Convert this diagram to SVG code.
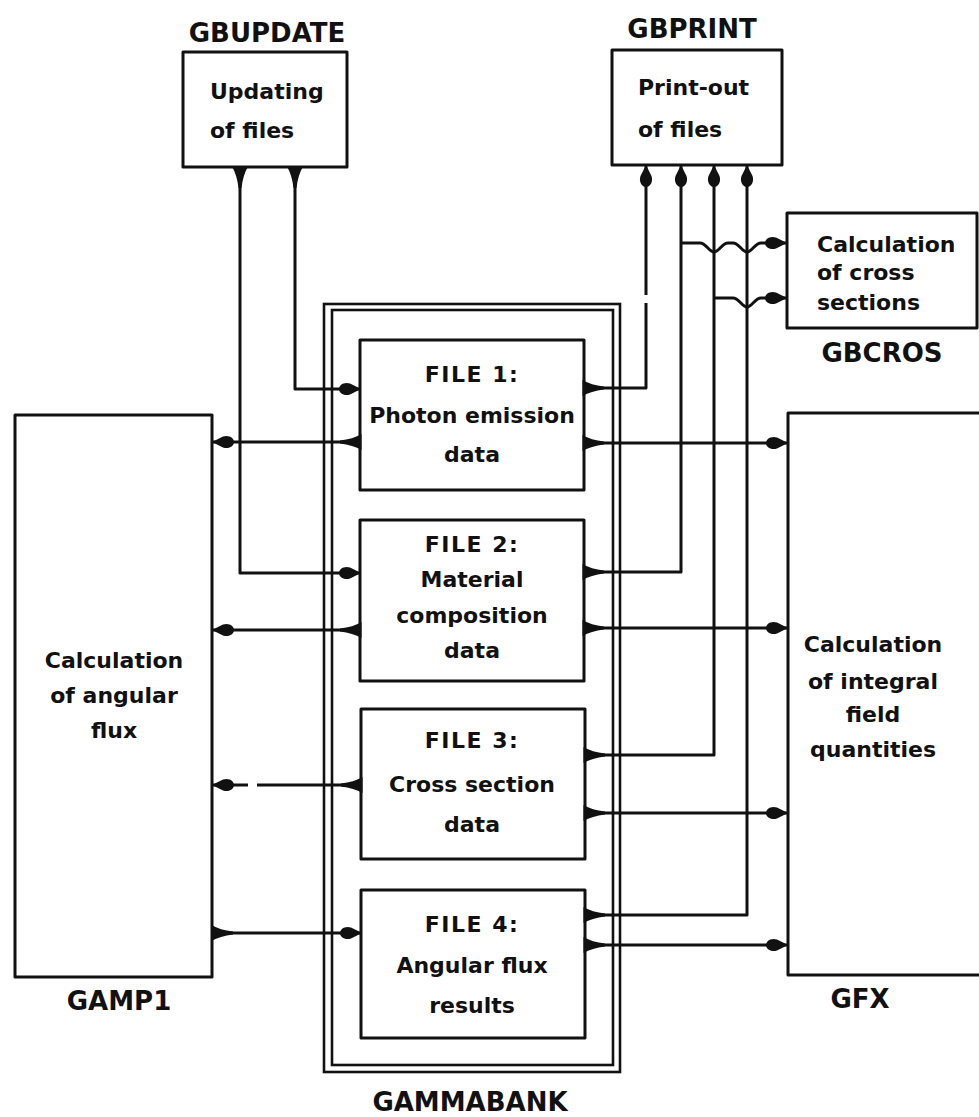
<svg xmlns="http://www.w3.org/2000/svg" width="979" height="1117" viewBox="0 0 979 1117">
<style>
.box{fill:none;stroke:#111;stroke-width:3;stroke-linejoin:round}
.frame{fill:none;stroke:#111;stroke-width:2.6}
.ln{fill:none;stroke:#111;stroke-width:3;stroke-linejoin:round}
.t{font-family:"DejaVu Sans","Liberation Sans",sans-serif;font-weight:bold;font-size:22px;fill:#111}
.ttl{font-family:"DejaVu Sans","Liberation Sans",sans-serif;font-weight:bold;font-size:26px;fill:#111;text-anchor:middle}
.c{text-anchor:middle}
</style>
<defs>
<marker id="arr" markerUnits="userSpaceOnUse" markerWidth="30" markerHeight="20" refX="0" refY="0" orient="auto" overflow="visible">
<path d="M1,0 L-10,-5.5 C-16,-7.5 -21,-4 -21,0 C-21,4 -16,7.5 -10,5.5 Z" fill="#111"/>
</marker>
<marker id="flr" markerUnits="userSpaceOnUse" markerWidth="30" markerHeight="20" refX="0" refY="0" orient="auto" overflow="visible">
<path d="M-1.5,-8 Q7,-3 20,-1.5 L20,1.5 Q7,3 -1.5,8 Z" fill="#111"/>
</marker>
</defs>
<rect width="979" height="1117" fill="#fff"/>

<g id="gbupdate">
<rect class="box" x="183" y="52" width="164" height="115"/>
<text class="ttl" x="267" y="42">GBUPDATE</text>
<text class="t" x="210" y="99">Updating</text>
<text class="t" x="210" y="138">of files</text>
</g>

<g id="gbprint">
<rect class="box" x="612" y="50" width="170" height="115"/>
<text class="ttl" x="692" y="38">GBPRINT</text>
<text class="t" x="638" y="95">Print-out</text>
<text class="t" x="638" y="137">of files</text>
</g>

<g id="gbcros">
<rect class="box" x="787" y="213" width="190" height="115"/>
<text class="t" x="817" y="252">Calculation</text>
<text class="t" x="817" y="280">of  cross</text>
<text class="t" x="817" y="310">sections</text>
<text class="ttl" x="882" y="362">GBCROS</text>
</g>

<g id="gamp1">
<rect class="box" x="15" y="415" width="197" height="562"/>
<text class="t c" x="114" y="668">Calculation</text>
<text class="t c" x="114" y="703">of  angular</text>
<text class="t c" x="114" y="738">flux</text>
<text class="ttl" x="119" y="1010">GAMP1</text>
</g>

<g id="gfx">
<rect class="box" x="788" y="413" width="220" height="562"/>
<text class="t c" x="873" y="652">Calculation</text>
<text class="t c" x="873" y="689">of  integral</text>
<text class="t c" x="873" y="722">field</text>
<text class="t c" x="873" y="757">quantities</text>
<text class="ttl" x="860" y="1008">GFX</text>
</g>

<g id="gammabank">
<rect class="frame" x="324" y="304" width="296" height="768"/>
<rect class="frame" x="332" y="310" width="281" height="755"/>
<text class="ttl" x="470" y="1111">GAMMABANK</text>
</g>

<g id="file1">
<rect class="box" x="360" y="340" width="224" height="150"/>
<text class="t c" x="472" y="382" letter-spacing="1.5">FILE 1:</text>
<text class="t c" x="472" y="423" font-size="20">Photon emission</text>
<text class="t c" x="472" y="462">data</text>
</g>

<g id="file2">
<rect class="box" x="360" y="520" width="224" height="161"/>
<text class="t c" x="472" y="552" letter-spacing="1.5">FILE 2:</text>
<text class="t c" x="472" y="587">Material</text>
<text class="t c" x="472" y="623">composition</text>
<text class="t c" x="472" y="658">data</text>
</g>

<g id="file3">
<rect class="box" x="361" y="709" width="224" height="150"/>
<text class="t c" x="472" y="748" letter-spacing="1.5">FILE 3:</text>
<text class="t c" x="472" y="792">Cross section</text>
<text class="t c" x="472" y="832">data</text>
</g>

<g id="file4">
<rect class="box" x="361" y="890" width="224" height="148"/>
<text class="t c" x="472" y="932" letter-spacing="1.5">FILE 4:</text>
<text class="t c" x="472" y="973">Angular flux</text>
<text class="t c" x="472" y="1013">results</text>
</g>

<g id="connectors">
<!-- GBUPDATE to files -->
<path class="ln" d="M295,168 L295,389 L360,389" marker-start="url(#flr)" marker-end="url(#arr)"/>
<path class="ln" d="M240,168 L240,573 L360,573" marker-start="url(#flr)" marker-end="url(#arr)"/>
<!-- files to/from GAMP1 -->
<path class="ln" d="M360,442 L213,442" marker-start="url(#flr)" marker-end="url(#arr)"/>
<path class="ln" d="M360,630 L213,630" marker-start="url(#flr)" marker-end="url(#arr)"/>
<path class="ln" d="M361,785 L257,785" marker-start="url(#flr)"/>
<path class="ln" d="M248,785 L213,785" marker-end="url(#arr)"/>
<path class="ln" d="M213,933 L361,933" marker-start="url(#flr)" marker-end="url(#arr)"/>
<!-- files to GBPRINT -->
<path class="ln" d="M584,388 L646,388 L646,303" marker-start="url(#flr)"/>
<path class="ln" d="M646,295 L646,166" marker-end="url(#arr)"/>
<path class="ln" d="M584,572 L681,572 L681,166" marker-start="url(#flr)" marker-end="url(#arr)"/>
<path class="ln" d="M585,755 L714,755 L714,166" marker-start="url(#flr)" marker-end="url(#arr)"/>
<path class="ln" d="M585,915 L747,915 L747,166" marker-start="url(#flr)" marker-end="url(#arr)"/>
<!-- files to GFX -->
<path class="ln" d="M584,443 L787,443" marker-start="url(#flr)" marker-end="url(#arr)"/>
<path class="ln" d="M584,628 L787,628" marker-start="url(#flr)" marker-end="url(#arr)"/>
<path class="ln" d="M585,813 L787,813" marker-start="url(#flr)" marker-end="url(#arr)"/>
<path class="ln" d="M585,945 L787,945" marker-start="url(#flr)" marker-end="url(#arr)"/>
<!-- branches to GBCROS with hops -->
<path class="ln" d="M681,243 L700,243 C706,243 709,252 714,252 C719,252 722,243 728,243 L733,243 C739,243 742,252 747,252 C752,252 755,243 761,243 L786,243" marker-end="url(#arr)"/>
<path class="ln" d="M714,298 L733,298 C739,298 742,307 747,307 C752,307 755,298 761,298 L786,298" marker-end="url(#arr)"/>
</g>
</svg>
